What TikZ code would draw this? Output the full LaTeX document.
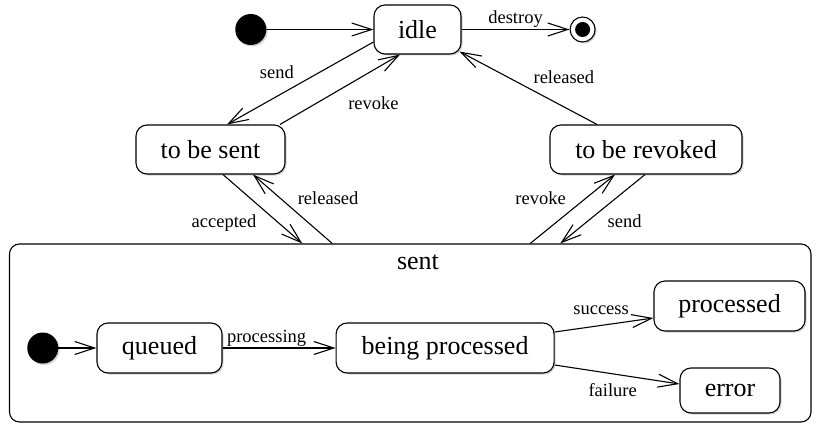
\documentclass[tikz,border=0pt]{standalone}
\usepackage{fontspec}
\setmainfont{Liberation Serif}
\usetikzlibrary{positioning,arrows.meta,shadows}
\tikzset{my state/.style={draw,line width=1.1pt,rounded corners=11pt,fill=white,inner sep=0pt,minimum height=49pt,minimum width=#1,font=\rmfamily\fontsize{26}{30}\selectfont,drop shadow={shadow xshift=1.5pt,shadow yshift=-1.5pt,opacity=0.35}},
  my init/.style={circle,fill=black,inner sep=0pt,minimum size=31pt,drop shadow={shadow xshift=1.5pt,shadow yshift=-1.5pt,opacity=0.35}},
  my final/.style={circle,draw,line width=1.1pt,fill=white,inner sep=0pt,minimum size=25pt,label={[circle,fill=black,inner sep=0pt,minimum size=15pt]center:},drop shadow={shadow xshift=1.5pt,shadow yshift=-1.5pt,opacity=0.35}},
  my trans/.style={line width=1.1pt,-{Straight Barb[length=20pt,width=13pt]}},
  my label/.style={font=\rmfamily\fontsize{18.5}{22}\selectfont,inner sep=1pt}}

\begin{document}
\begin{tikzpicture}[x=1pt,y=-1pt]
\useasboundingbox (0,0) rectangle (816,425);
% outer states
\node[my state=87pt] (idle) at (417.5,29.5) {idle};
\node[my init] (start) [left=107pt of idle] {};
\node[my final] (stop) [right=108pt of idle] {};
\node[my state=149pt] (tobesent) at (210.5,149.5) {to be sent};
\node[my state=192pt] (toberevoked) at (646,149.5) {to be revoked};
% composite state
\node[draw,line width=1.1pt,rounded corners=10pt,minimum width=801.5pt,minimum height=178pt] (sent) at (410.25,333) {};
\node[font=\rmfamily\fontsize{26}{30}\selectfont] (sentname) at (418,262.5) {sent};
\node[my state=125pt,minimum height=50pt] (queued) at (159.5,348) {queued};
\node[my init] (substart) [left=38pt of queued] {};
\node[my state=218pt,minimum height=50pt] (beingprocessed) [right=113pt of queued] {being processed};
\node[my state=151pt,minimum height=50pt] (processed) at (729.5,306) {processed};
\node[my state=100pt,minimum height=45pt] (error) at (730,390.5) {error};

% transitions
\draw[my trans] (start) -- (idle);
\draw[my trans] (idle) -- node[my label,above] {destroy} (stop);
\draw[my trans] ([yshift=-12.5pt]idle.west) -- node[my label,pos=0.4,xshift=-38pt,yshift=3pt] {send} ([xshift=16.5pt]tobesent.north);
\draw[my trans] ([xshift=69.5pt]tobesent.north) -- node[my label,pos=0.6,xshift=21.5pt,yshift=-20.7pt] {revoke} ([xshift=-17.5pt]idle.south);
\draw[my trans] ([xshift=-49pt]toberevoked.north) -- node[my label,pos=0.35,xshift=15pt,yshift=21.6pt] {released} ([xshift=-2pt,yshift=3pt]idle.south east);
\draw[my trans] ([xshift=12.5pt]tobesent.south) -- node[my label,pos=0.55,xshift=-42.5pt,yshift=-10.5pt] {accepted} ([xshift=-108pt]sent.north);
\draw[my trans] ([xshift=-78pt]sent.north) -- node[my label,pos=0.5,xshift=35.5pt,yshift=10.5pt] {released} ([xshift=42.5pt]tobesent.south);
\draw[my trans] ([xshift=120pt]sent.north) -- node[my label,pos=0.5,xshift=-32pt,yshift=10.5pt] {revoke} ([xshift=-31pt]toberevoked.south);
\draw[my trans] ([xshift=-1pt]toberevoked.south) -- node[my label,pos=0.5,xshift=22pt,yshift=-12.5pt] {send} ([xshift=150pt]sent.north);
% inside sent
\draw[my trans] (substart) -- (queued);
\draw[my trans] (queued) -- node[my label,above,pos=0.39] {processing} (beingprocessed);
\draw[my trans] ([yshift=16pt]beingprocessed.east) -- node[my label,pos=0.47,yshift=15.4pt] {success} ([yshift=-12pt]processed.west);
\draw[my trans] ([yshift=-17pt]beingprocessed.east) -- node[my label,pos=0.465,yshift=-16.2pt] {failure} ([yshift=6.5pt]error.west);
\end{tikzpicture}
\end{document}
